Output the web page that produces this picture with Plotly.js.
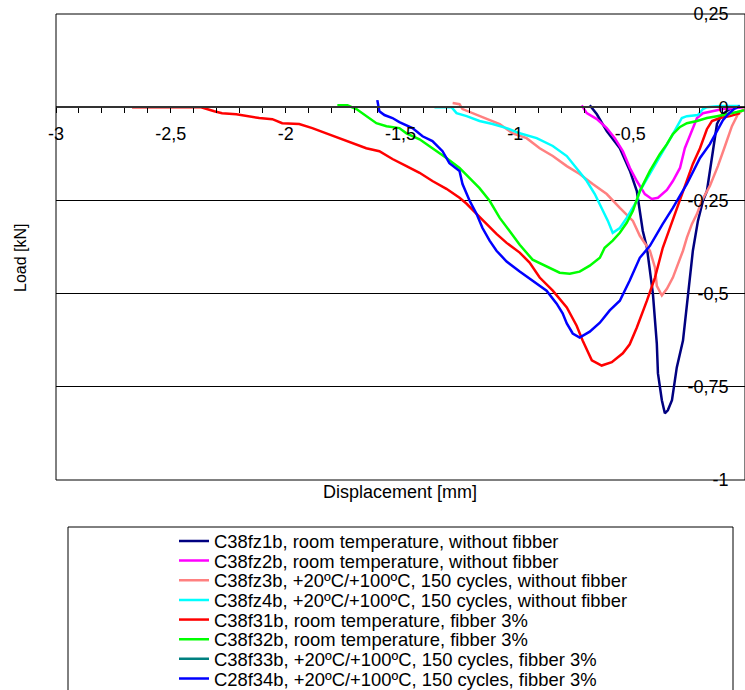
<!DOCTYPE html>
<html>
<head>
<meta charset="utf-8">
<script src="https://cdn.plot.ly/plotly-3.0.1.min.js"></script>
<style>html,body{margin:0;padding:0;background:#fff;}#chart{width:745px;height:690px;}</style>
</head>
<body>
<div id="chart"></div>
<script>
// ---- Data ----
var seriesNames = [
  "C38fz1b, room temperature, without fibber",
  "C38fz2b, room temperature, without fibber",
  "C38fz3b, +20ºC/+100ºC, 150 cycles, without fibber",
  "C38fz4b, +20ºC/+100ºC, 150 cycles, without fibber",
  "C38f31b, room temperature, fibber 3%",
  "C38f32b, room temperature, fibber 3%",
  "C38f33b, +20ºC/+100ºC, 150 cycles, fibber 3%",
  "C28f34b, +20ºC/+100ºC, 150 cycles, fibber 3%"
];
var seriesColors = ["#000080","#FF00FF","#FF8080","#00FFFF","#FF0000","#00FF00","#008080","#0000FF"];

var fz1bX = [-0.676,-0.645,-0.602,-0.545,-0.501,-0.471,-0.445,-0.427,-0.401,-0.384,-0.379,-0.362,-0.349,-0.336,-0.318,-0.297,-0.270,-0.249,-0.227,-0.205,-0.183,-0.166,-0.140,-0.122,-0.100,-0.065,-0.022];
var fz1bY = [0.005,-0.019,-0.064,-0.110,-0.171,-0.225,-0.332,-0.377,-0.500,-0.634,-0.714,-0.786,-0.821,-0.813,-0.786,-0.698,-0.626,-0.500,-0.385,-0.305,-0.251,-0.225,-0.110,-0.045,-0.019,-0.005,0.000];

var fz2bX = [-0.711,-0.689,-0.645,-0.602,-0.567,-0.532,-0.501,-0.471,-0.436,-0.406,-0.379,-0.340,-0.314,-0.283,-0.262,-0.231,-0.209,-0.183,-0.140,-0.096,-0.052,-0.009];
var fz2bY = [0.005,-0.016,-0.032,-0.056,-0.083,-0.118,-0.163,-0.198,-0.233,-0.246,-0.243,-0.222,-0.198,-0.163,-0.110,-0.064,-0.029,-0.016,-0.011,-0.005,-0.003,0.000];

var fz3bX = [-1.273,-1.243,-1.230,-1.186,-1.125,-1.068,-1.012,-0.951,-0.894,-0.837,-0.776,-0.720,-0.663,-0.602,-0.545,-0.488,-0.458,-0.414,-0.392,-0.384,-0.362,-0.340,-0.314,-0.292,-0.270,-0.253,-0.231,-0.209,-0.188,-0.153,-0.118,-0.087,-0.057,-0.031,-0.004];
var fz3bY = [0.011,0.008,-0.005,-0.016,-0.032,-0.045,-0.070,-0.083,-0.110,-0.131,-0.158,-0.179,-0.206,-0.233,-0.270,-0.305,-0.345,-0.385,-0.430,-0.479,-0.505,-0.487,-0.457,-0.420,-0.385,-0.350,-0.313,-0.286,-0.251,-0.211,-0.158,-0.104,-0.051,-0.019,-0.005];

var fz4bX = [-1.352,-1.278,-1.256,-1.212,-1.156,-1.099,-1.038,-0.981,-0.907,-0.837,-0.776,-0.733,-0.689,-0.654,-0.624,-0.597,-0.576,-0.545,-0.515,-0.471,-0.458,-0.414,-0.358,-0.314,-0.275,-0.253,-0.205,-0.183,-0.166,-0.109,-0.022];
var fz4bY = [0.000,0.000,-0.016,-0.024,-0.037,-0.045,-0.056,-0.070,-0.083,-0.104,-0.131,-0.163,-0.198,-0.233,-0.270,-0.305,-0.337,-0.324,-0.297,-0.251,-0.225,-0.179,-0.118,-0.072,-0.029,-0.024,-0.021,-0.005,0.000,0.003,0.003];

var f31bX = [-2.669,-2.368,-2.311,-2.277,-2.215,-2.159,-2.115,-2.058,-2.015,-1.941,-1.884,-1.823,-1.766,-1.710,-1.649,-1.592,-1.535,-1.474,-1.417,-1.361,-1.300,-1.243,-1.212,-1.169,-1.125,-1.082,-1.038,-0.981,-0.938,-0.894,-0.837,-0.776,-0.733,-0.707,-0.667,-0.624,-0.580,-0.532,-0.502,-0.471,-0.427,-0.392,-0.358,-0.327,-0.283,-0.253,-0.227,-0.196,-0.166,-0.144,-0.109,-0.065,-0.022];
var f31bY = [0.000,0.000,-0.011,-0.016,-0.019,-0.024,-0.029,-0.032,-0.043,-0.045,-0.056,-0.070,-0.083,-0.096,-0.110,-0.118,-0.139,-0.158,-0.176,-0.198,-0.219,-0.243,-0.259,-0.286,-0.313,-0.340,-0.364,-0.390,-0.417,-0.457,-0.492,-0.537,-0.586,-0.626,-0.679,-0.693,-0.684,-0.660,-0.636,-0.591,-0.519,-0.457,-0.377,-0.324,-0.251,-0.198,-0.152,-0.110,-0.059,-0.037,-0.029,-0.024,-0.016];

var f32bX = [-1.775,-1.731,-1.692,-1.649,-1.605,-1.561,-1.505,-1.474,-1.417,-1.361,-1.300,-1.243,-1.199,-1.156,-1.112,-1.068,-1.025,-0.981,-0.925,-0.864,-0.807,-0.763,-0.720,-0.676,-0.632,-0.611,-0.576,-0.545,-0.515,-0.488,-0.458,-0.414,-0.371,-0.340,-0.314,-0.283,-0.253,-0.209,-0.166,-0.122,-0.079,-0.035,-0.004];
var f32bY = [0.005,0.005,-0.005,-0.024,-0.043,-0.051,-0.056,-0.070,-0.086,-0.110,-0.136,-0.163,-0.190,-0.217,-0.251,-0.297,-0.332,-0.369,-0.409,-0.428,-0.444,-0.447,-0.441,-0.425,-0.404,-0.377,-0.358,-0.337,-0.310,-0.278,-0.225,-0.171,-0.126,-0.099,-0.072,-0.053,-0.043,-0.037,-0.029,-0.024,-0.019,-0.013,-0.008];

// C38f33b is listed in the legend but its curve is not visible in the picture
var f33bX = [0];
var f33bY = [0];

var f34bX = [-1.601,-1.592,-1.570,-1.535,-1.505,-1.448,-1.404,-1.361,-1.317,-1.287,-1.243,-1.230,-1.199,-1.169,-1.143,-1.112,-1.082,-1.038,-0.981,-0.925,-0.864,-0.820,-0.794,-0.776,-0.750,-0.720,-0.676,-0.632,-0.589,-0.545,-0.502,-0.458,-0.414,-0.358,-0.314,-0.253,-0.196,-0.153,-0.122,-0.096,-0.074,-0.044,-0.022];
var f34bY = [0.019,-0.011,-0.021,-0.029,-0.040,-0.056,-0.078,-0.091,-0.118,-0.150,-0.171,-0.206,-0.251,-0.286,-0.324,-0.358,-0.385,-0.414,-0.441,-0.465,-0.492,-0.527,-0.553,-0.580,-0.607,-0.618,-0.602,-0.578,-0.545,-0.519,-0.465,-0.404,-0.372,-0.313,-0.270,-0.206,-0.136,-0.099,-0.064,-0.035,-0.019,-0.003,0.003];

var seriesX = [fz1bX, fz2bX, fz3bX, fz4bX, f31bX, f32bX, f33bX, f34bX];
var seriesY = [fz1bY, fz2bY, fz3bY, fz4bY, f31bY, f32bY, f33bY, f34bY];

var xTickVals = [-3, -2.5, -2, -1.5, -1, -0.5, 0];
var xTickText = ["-3", "-2,5", "-2", "-1,5", "-1", "-0,5", "0"];
var yTickVals = [0.25, 0, -0.25, -0.5, -0.75, -1];
var yTickText = ["0,25", "0", "-0,25", "-0,5", "-0,75", "-1"];

// ---- Layout geometry ----
var W = 745, H = 690;
var mL = 56, mR = 0, mT = 14, mB = 210;
var plotH = H - mT - mB;   // 466
var plotW = W - mL - mR;   // 689
function px2paperY(py) { return (H - mB - py) / plotH; }
function px2paperX(px) { return (px - mL) / plotW; }

var FONT = "Liberation Sans, Arial, sans-serif";

var traces = [];
var layout = {
  width: W, height: H,
  margin: {l: mL, r: mR, t: mT, b: mB, pad: 0, autoexpand: false},
  paper_bgcolor: "#ffffff",
  plot_bgcolor: "rgba(0,0,0,0)",
  showlegend: true,
  hovermode: false,
  font: {family: FONT, size: 18, color: "#000000"},
  xaxis: {
    range: [-3, 0], anchor: "free", position: 0.8,
    showline: true, linecolor: "#333333", linewidth: 2,
    showgrid: false, zeroline: false, automargin: false,
    tickmode: "array", tickvals: xTickVals, ticktext: xTickText,
    ticks: "outside", ticklen: 5, tickwidth: 1, tickcolor: "#000000",
    ticklabelstandoff: 5,
    minor: {tickmode: "linear", tick0: 0, dtick: 0.1, ticks: "outside", ticklen: 5, tickwidth: 1, tickcolor: "#000000", showgrid: false},
    tickfont: {family: FONT, size: 18, color: "#000000"}
  },
  yaxis: {
    range: [-1, 0.25], side: "right", anchor: "x",
    showline: false, zeroline: false, automargin: false,
    showgrid: true, gridcolor: "#000000", gridwidth: 1,
    tickmode: "array", tickvals: yTickVals, ticktext: yTickText,
    ticks: "inside", ticklen: 8, tickwidth: 1, tickcolor: "#000000",
    ticklabelposition: "inside", ticklabeloverflow: "allow",
    ticklabelstandoff: 9,
    tickfont: {family: FONT, size: 18, color: "#000000"}
  },
  shapes: [
    {type: "rect", xref: "paper", yref: "paper", x0: 0, x1: 1, y0: 0, y1: 1,
     line: {color: "#000000", width: 1}, fillcolor: "rgba(0,0,0,0)", layer: "above"},
    {type: "rect", xref: "paper", yref: "paper",
     x0: px2paperX(68), x1: px2paperX(733), y0: px2paperY(527), y1: px2paperY(720),
     line: {color: "#000000", width: 1}, fillcolor: "rgba(0,0,0,0)", layer: "above"}
  ],
  annotations: [
    {text: "Displacement [mm]", xref: "paper", yref: "paper", x: px2paperX(400), y: px2paperY(492),
     xanchor: "center", yanchor: "middle", showarrow: false, font: {family: FONT, size: 18, color: "#000000"}},
    {text: "Load [kN]", xref: "paper", yref: "paper", x: px2paperX(20), y: px2paperY(258),
     xanchor: "center", yanchor: "middle", textangle: -90, showarrow: false, font: {family: FONT, size: 16, color: "#000000"}}
  ]
};

for (var i = 0; i < seriesNames.length; i++) {
  var lgKey = i === 0 ? "legend" : "legend" + (i + 1);
  traces.push({
    type: "scatter", mode: "lines",
    x: seriesX[i], y: seriesY[i],
    name: seriesNames[i],
    line: {color: seriesColors[i], width: 2.5},
    legend: lgKey,
    showlegend: true
  });
  layout[lgKey] = {
    x: px2paperX(174), xanchor: "left",
    y: px2paperY(541 + 19.65 * i), yanchor: "middle",
    bgcolor: "rgba(0,0,0,0)", borderwidth: 0,
    font: {family: FONT, size: 18.4, color: "#000000"}
  };
}

Plotly.newPlot("chart", traces, layout, {displayModeBar: false, staticPlot: true});
</script>
</body>
</html>
